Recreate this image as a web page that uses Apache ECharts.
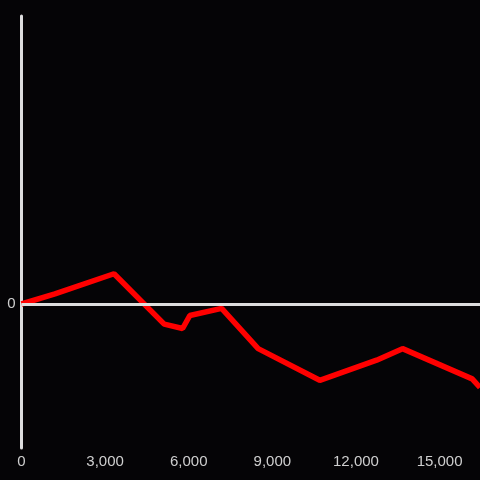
<!DOCTYPE html>
<html><head><meta charset="utf-8">
<script src="https://cdn.jsdelivr.net/npm/echarts@6/dist/echarts.min.js"></script>
<style>html,body{margin:0;padding:0;background:#050406}#c{width:480px;height:480px}</style>
</head><body><div id="c"></div>
<script>
const xValues = [0, 1200, 3320, 5120, 5780, 6040, 7180, 8490, 10700, 12740, 13670, 16170, 16450];
const yValues = [0, 7, 21, -14, -17, -8, -3, -31, -53, -39, -31, -52, -58];
const xTicks = [0, 3000, 6000, 9000, 12000, 15000];

const chart = echarts.init(document.getElementById('c'));
chart.setOption({
  backgroundColor: '#050406',
  animation: false,
  grid: {left: 21.5, right: 0, top: 16, bottom: 32},
  xAxis: {
    type: 'value', min: 0, max: 16450, interval: 3000,
    axisLine: {show: false, onZero: false},
    axisTick: {show: false},
    splitLine: {show: false},
    axisLabel: {color: '#cfcfcf', fontSize: 15, fontFamily: 'Liberation Sans', margin: 6,
      showMaxLabel: false,
      formatter: v => xTicks.includes(v) ? v.toLocaleString('en-US') : ''}
  },
  yAxis: {
    type: 'value', min: -100, max: 200, interval: 100, offset: 1,
    axisLine: {show: true, lineStyle: {color: '#dddddd', width: 3}},
    axisTick: {show: false},
    splitLine: {show: false},
    axisLabel: {color: '#cfcfcf', fontSize: 15, fontFamily: 'Liberation Sans', margin: 5,
      verticalAlign: 'middle', padding: [4, 0, 0, 0],
      formatter: v => v === 0 ? '0' : ''}
  },
  series: [{
    type: 'line',
    data: xValues.map((x, i) => [x, yValues[i]]),
    showSymbol: false,
    lineStyle: {color: '#ff0000', width: 5.5},
    markLine: {
      silent: true, symbol: ['none', 'none'], label: {show: false},
      lineStyle: {color: '#dddddd', width: 3, type: 'solid'},
      data: [{yAxis: 0}]
    },
    z: 3
  }]
});
</script></body></html>
